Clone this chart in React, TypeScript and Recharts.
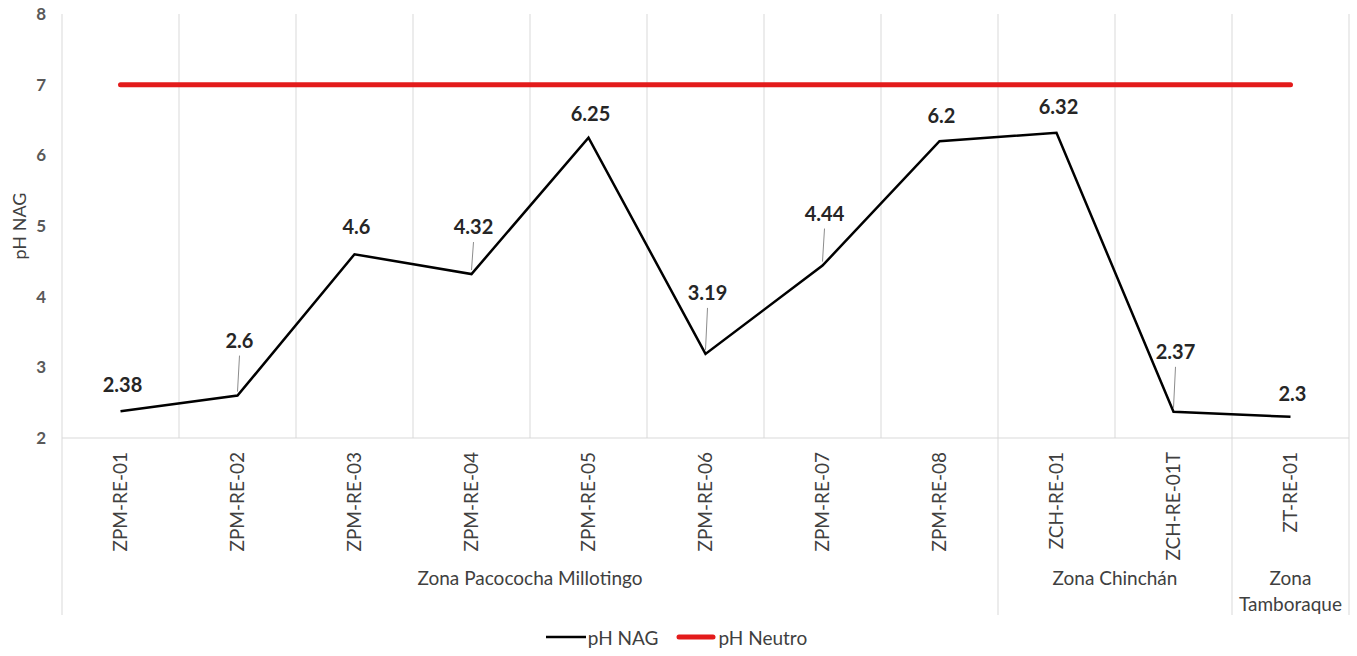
import React from 'react';
import { LineChart, Line, XAxis, YAxis, CartesianGrid, Legend, LabelList } from 'recharts';

const samples = [
  'ZPM-RE-01', 'ZPM-RE-02', 'ZPM-RE-03', 'ZPM-RE-04', 'ZPM-RE-05', 'ZPM-RE-06',
  'ZPM-RE-07', 'ZPM-RE-08', 'ZCH-RE-01', 'ZCH-RE-01T', 'ZT-RE-01',
];
const phNag = [2.38, 2.6, 4.6, 4.32, 6.25, 3.19, 4.44, 6.2, 6.32, 2.37, 2.3];
const phNeutro = [7, 7, 7, 7, 7, 7, 7, 7, 7, 7, 7];
const zoneNames = ['Zona Pacococha Millotingo', 'Zona Chinchán', 'Zona Tamboraque'];
const zoneCounts = [8, 2, 1];
const yTicks = [2, 3, 4, 5, 6, 7, 8];

// where Excel had moved each data label (px above the point) and whether it drew a leader line
const labelLift = [26, 55, 27, 47, 24, 61, 52, 25, 26, 60, 23];
const labelLeader = [false, true, false, true, false, true, true, false, false, true, false];

const W = 1357;
const H = 656;
const LEFT = 62;
const RIGHT = 8;
const TOP = 14;
const LEGEND_H = 38;
const AXIS_H = 130;
const ZONE_H = 50;
const PLOT_BOTTOM = H - LEGEND_H - AXIS_H - ZONE_H;
const BAND = (W - LEFT - RIGHT) / samples.length;
const FONT = 'Lato, "Open Sans", sans-serif';
const TEXT = '#404040';
const GRID = '#d9d9d9';

const zoneStart: number[] = [];
zoneCounts.reduce((acc, c) => { zoneStart.push(acc); return acc + c; }, 0);

const data = samples.map((name, i) => ({ name, nag: phNag[i], neutro: phNeutro[i] }));

const gridX = samples.map((_, i) => LEFT + i * BAND).concat(W - RIGHT);

const SampleTick = (props: any) => {
  const { x, payload } = props;
  const y = PLOT_BOTTOM + 14;
  return (
    <text x={x} y={y} transform={`rotate(-90, ${x}, ${y})`} textAnchor="end" dy="0.35em"
      fill={TEXT} fontSize={19} fontFamily={FONT}>
      {payload.value}
    </text>
  );
};

const ZoneTick = (props: any) => {
  const { x, index } = props;
  const z = zoneStart.indexOf(index);
  const bottom = PLOT_BOTTOM + AXIS_H + ZONE_H - 3;
  const last = index === samples.length - 1;
  const parts: React.ReactNode[] = [];
  if (z >= 0) {
    parts.push(<line key="l" x1={x - BAND / 2} x2={x - BAND / 2} y1={PLOT_BOTTOM} y2={bottom} stroke={GRID} />);
    const cx = x + ((zoneCounts[z] - 1) * BAND) / 2;
    const words = zoneCounts[z] === 1 ? zoneNames[z].split(' ') : [zoneNames[z]];
    words.forEach((w, k) => {
      parts.push(
        <text key={'t' + k} x={cx} y={PLOT_BOTTOM + 140 + k * 26} textAnchor="middle" dy="0.35em"
          fill={TEXT} fontSize={19} fontFamily={FONT}>{w}</text>
      );
    });
  }
  if (last) {
    parts.push(<line key="r" x1={x + BAND / 2} x2={x + BAND / 2} y1={PLOT_BOTTOM} y2={bottom} stroke={GRID} />);
  }
  return <g>{parts}</g>;
};

const ValueLabel = (props: any) => {
  const { x, y, value, index } = props;
  const cy = y - labelLift[index];
  return (
    <g>
      {labelLeader[index] && (
        <line x1={x} y1={y - 4} x2={x + 2} y2={cy + 15} stroke="#8c8c8c" strokeWidth={1} />
      )}
      <text x={x + 2} y={cy} textAnchor="middle" dy="0.35em" fontWeight={700} fontSize={20}
        fill="#262626" fontFamily={FONT}>
        {value}
      </text>
    </g>
  );
};

const LegendBox = () => (
  <div style={{ display: 'flex', justifyContent: 'center', alignItems: 'center', gap: 18,
    fontFamily: FONT, fontSize: 19, color: TEXT, height: LEGEND_H, paddingLeft: 4 }}>
    <span style={{ display: 'flex', alignItems: 'center' }}>
      <svg width={40} height={10}><line x1={0} x2={40} y1={5} y2={5} stroke="#000" strokeWidth={2.5} /></svg>
      <span style={{ marginLeft: 2 }}>pH NAG</span>
    </span>
    <span style={{ display: 'flex', alignItems: 'center' }}>
      <svg width={40} height={10}><line x1={3} x2={37} y1={5} y2={5} stroke="#e31b1b" strokeWidth={5} strokeLinecap="round" /></svg>
      <span style={{ marginLeft: 2 }}>pH Neutro</span>
    </span>
  </div>
);

const YLabel = (props: any) => {
  const { viewBox } = props;
  const cy = viewBox.y + viewBox.height / 2;
  return (
    <text x={20} y={cy} transform={`rotate(-90, 20, ${cy})`} textAnchor="middle" dy="0.35em"
      fill={TEXT} fontSize={18} fontFamily={FONT}>pH NAG</text>
  );
};

export default function App() {
  return (
    <div style={{ position: 'absolute', left: 0, top: 0, background: '#fff' }}>
      <LineChart width={W} height={H} data={data} margin={{ top: TOP, right: RIGHT, left: 0, bottom: 0 }}>
        <CartesianGrid horizontal={false} verticalPoints={gridX} stroke={GRID} />
        <XAxis dataKey="name" height={AXIS_H} interval={0} tickLine={false}
          padding={{ left: BAND / 2, right: BAND / 2 }}
          axisLine={{ stroke: GRID }} tick={<SampleTick />} />
        <XAxis xAxisId="zone" dataKey="name" height={ZONE_H} interval={0} tickLine={false}
          padding={{ left: BAND / 2, right: BAND / 2 }}
          axisLine={false} tick={<ZoneTick />} />
        <YAxis width={LEFT} domain={[2, 8]} ticks={yTicks} interval={0} tickLine={false} axisLine={false}
          tickMargin={10} tick={{ fill: '#595959', fontSize: 17, fontWeight: 700, fontFamily: FONT }}
          label={<YLabel />} />
        <Legend verticalAlign="bottom" height={LEGEND_H} content={<LegendBox />} />
        <Line dataKey="neutro" name="pH Neutro" stroke="#e31b1b" strokeWidth={5} strokeLinecap="round"
          dot={false} isAnimationActive={false} />
        <Line dataKey="nag" name="pH NAG" stroke="#000" strokeWidth={2.5} dot={false} isAnimationActive={false}>
          <LabelList dataKey="nag" content={<ValueLabel />} />
        </Line>
      </LineChart>
    </div>
  );
}
